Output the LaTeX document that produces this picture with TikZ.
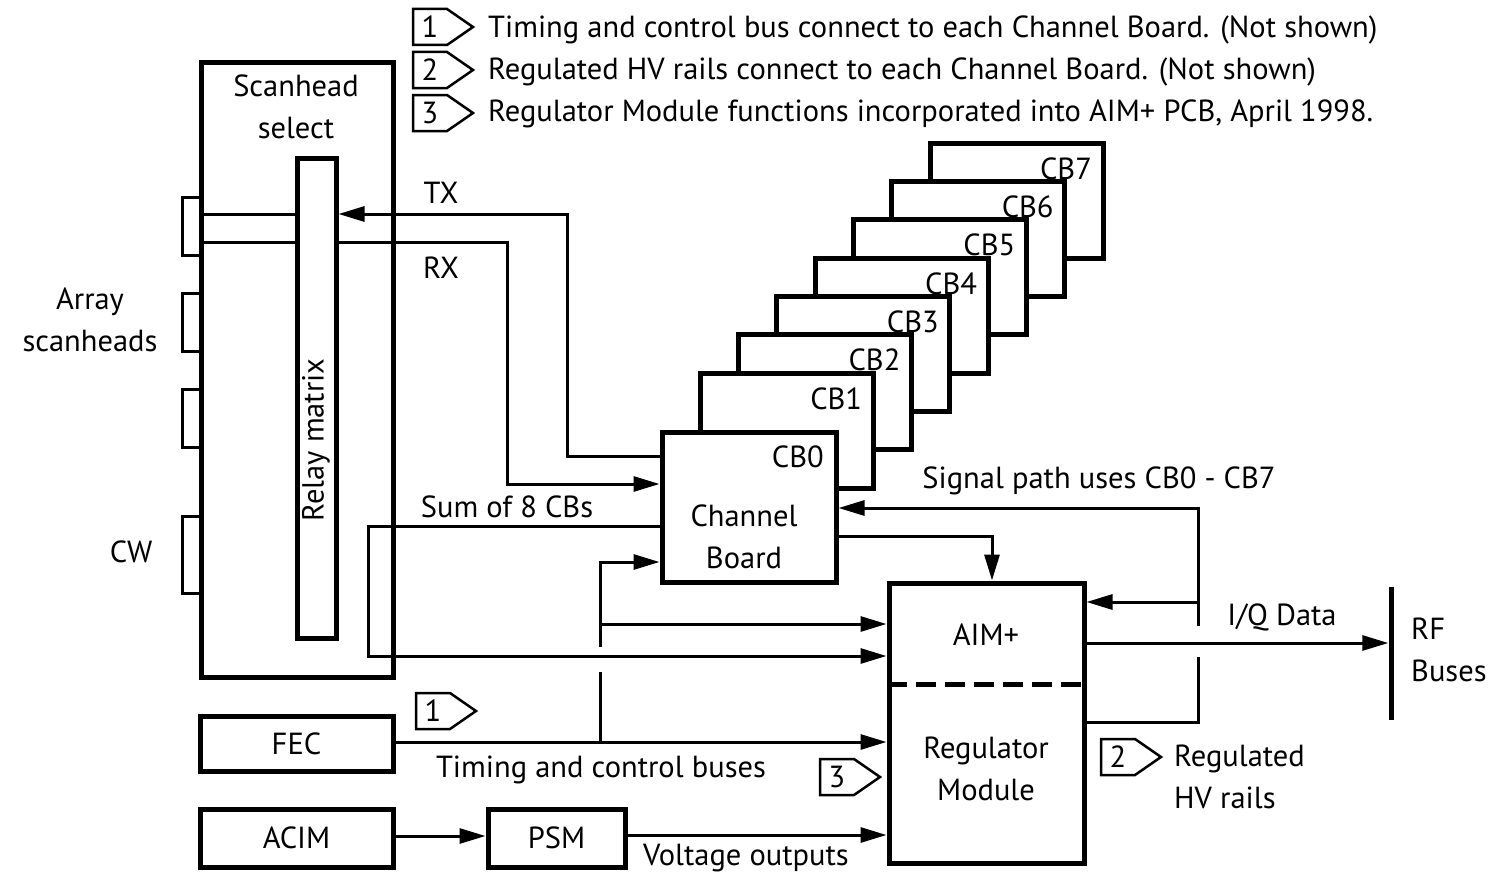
\documentclass[tikz,border=0pt]{standalone}
\usepackage{fontspec}
\setmainfont{PT Sans}
\usetikzlibrary{arrows.meta}
\begin{document}
\begin{tikzpicture}[x=1pt,y=-1pt, font=\fontsize{30.5}{42}\selectfont,
  blk/.style={draw, line width=5pt, inner sep=0pt},
  cbbox/.style={blk, fill=white, minimum width=173pt, minimum height=115pt},
  ln/.style={line width=3pt},
  arr/.style={ln, -{Triangle[length=26pt,width=15pt]}},
  txt/.style={inner sep=0pt, align=center},
  tagmark/.pic={\draw[line width=2.5pt, line join=miter] (0,-18) -- (0,18) -- (34,18) -- (60,0) -- (34,-18) -- cycle;
                \node[txt] (-n) at (17,0) {#1};}
  ]
\useasboundingbox (0,0) rectangle (1494,875);

% ---------- legend ----------
\pic (lg1) at (413,27) {tagmark=1};
\pic (lg2) at (413,70) {tagmark=2};
\pic (lg3) at (413,113) {tagmark=3};
\node[txt, anchor=west] (lt1) at (488,30) {Timing and control bus connect to each Channel Board. (Not shown)};
\node[txt, anchor=west] (lt2) at (488,72) {Regulated HV rails connect to each Channel Board. (Not shown)};
\node[txt, anchor=west] (lt3) at (488,114) {Regulator Module functions incorporated into AIM+ PCB, April 1998.};

% ---------- scanhead select ----------
\node[blk, minimum width=192pt, minimum height=614pt] (scan) at (297,370) {};
\node[blk, minimum width=39pt, minimum height=480pt] (relay) at (316.5,398) {};
\node[txt] (scantxt) at (296,107) {Scanhead\\select};
\node[txt, rotate=90] (relaytxt) at (316,440) {Relay matrix};
\foreach \a/\b in {197/255, 293/351, 389/447, 516/593}{
  \draw[ln] (scan.west |- 0,\a) -- (182,\a) -- (182,\b) -- (scan.west |- 0,\b);
}
\node[txt] (arraytxt) at (90,320) {Array\\scanheads};
\node[txt] (cwtxt) at (131,552) {CW};

% ---------- channel boards ----------
\foreach \k in {7,6,5,4,3,2,1}{
  \pgfmathsetmacro{\lx}{662+38.3*\k}
  \pgfmathsetmacro{\ty}{373-38.3*(\k-1)}
  \node[cbbox] (cb\k) at (\lx+86.5,\ty+57.5) {};
  \node[txt, anchor=base east] (cbl\k) at (\lx+162,\ty+36) {CB\k};
}
\node[blk, fill=white, minimum width=174pt, minimum height=150pt] (cb0) at (749,507) {};
\node[txt, anchor=base east] (cbl0) at (824,467) {CB0};
\node[txt] (cbtxt) at (744,537) {Channel\\Board};

% ---------- AIM+ / regulator ----------
\node[blk, minimum width=195pt, minimum height=280pt] (aim) at (986.5,723) {};
\draw[line width=5pt, dash pattern=on 20pt off 9pt] (aim.west |- 0,684) -- (aim.east |- 0,684);
\node[txt] (aimtxt) at (986,635) {AIM+};
\node[txt] (regtxt) at (986,769) {Regulator\\Module};

% ---------- bottom boxes ----------
\node[blk, minimum width=193pt, minimum height=55pt] (fec) at (296.5,743.5) {FEC};
\node[blk, minimum width=193pt, minimum height=58pt] (acim) at (296.5,838) {ACIM};
\node[blk, minimum width=137pt, minimum height=58pt] (psm) at (556.5,838) {PSM};

% ---------- RF bus ----------
\node[fill, minimum width=5pt, minimum height=133pt, inner sep=0pt] (rf) at (1391,653.5) {};
\node[txt, anchor=west, align=left] (rftxt) at (1411,650) {RF\\Buses};

% ---------- connectors ----------
\draw[arr] (cb0.west |- 0,456) -| (567,214) -- (relay.east |- 0,214);
\draw[arr] (relay.east |- 0,242) -| (507,484) -- (cb0.west |- 0,484);
\draw[ln] (scan.west |- 0,214) -- (relay.west |- 0,214);
\draw[ln] (scan.west |- 0,242) -- (relay.west |- 0,242);
\node[txt] (txtxt) at (441,193) {TX};
\node[txt] (rxtxt) at (441,268) {RX};

\draw[arr] (cb0.west |- 0,526) -- (368,526) -- (368,656) -- (aim.west |- 0,656);
\node[txt] (sumtxt) at (507,507) {Sum of 8 CBs};

\draw[ln] (600,742) -- (600,672);
\draw[arr] (600,647) |- (cb0.west |- 0,562);
\draw[arr] (600,624) -- (aim.west |- 0,624);
\draw[arr] (fec.east |- 0,742) -- (aim.west |- 0,742);
\pic (tg1) at (416,711) {tagmark=1};
\node[txt] (tctxt) at (601,770) {Timing and control buses};
\pic (tg3) at (820,777) {tagmark=3};

\draw[arr] (acim.east |- 0,836) -- (psm.west |- 0,836);
\draw[arr] (psm.east |- 0,835) -- (aim.west |- 0,835);
\node[txt] (votxt) at (746,858) {Voltage outputs};

\draw[arr] (cb0.east |- 0,536) -| (aim.north -| 992,0);
\draw[ln] (aim.east |- 0,722) -| (1198,657);
\draw[arr] (1198,626) |- (cb0.east |- 0,508);
\draw[arr] (1198,602) -- (aim.east |- 0,602);
\node[txt] (sptxt) at (1099,481) {Signal path uses CB0 - CB7};

\draw[arr] (aim.east |- 0,643) -- (rf.west |- 0,643);
\node[txt] (iqtxt) at (1282,617) {I/Q Data};

\pic (tg2) at (1101,757) {tagmark=2};
\node[txt, anchor=west, align=left] (hvtxt) at (1174,777) {Regulated\\HV rails};
\end{tikzpicture}
\end{document}
